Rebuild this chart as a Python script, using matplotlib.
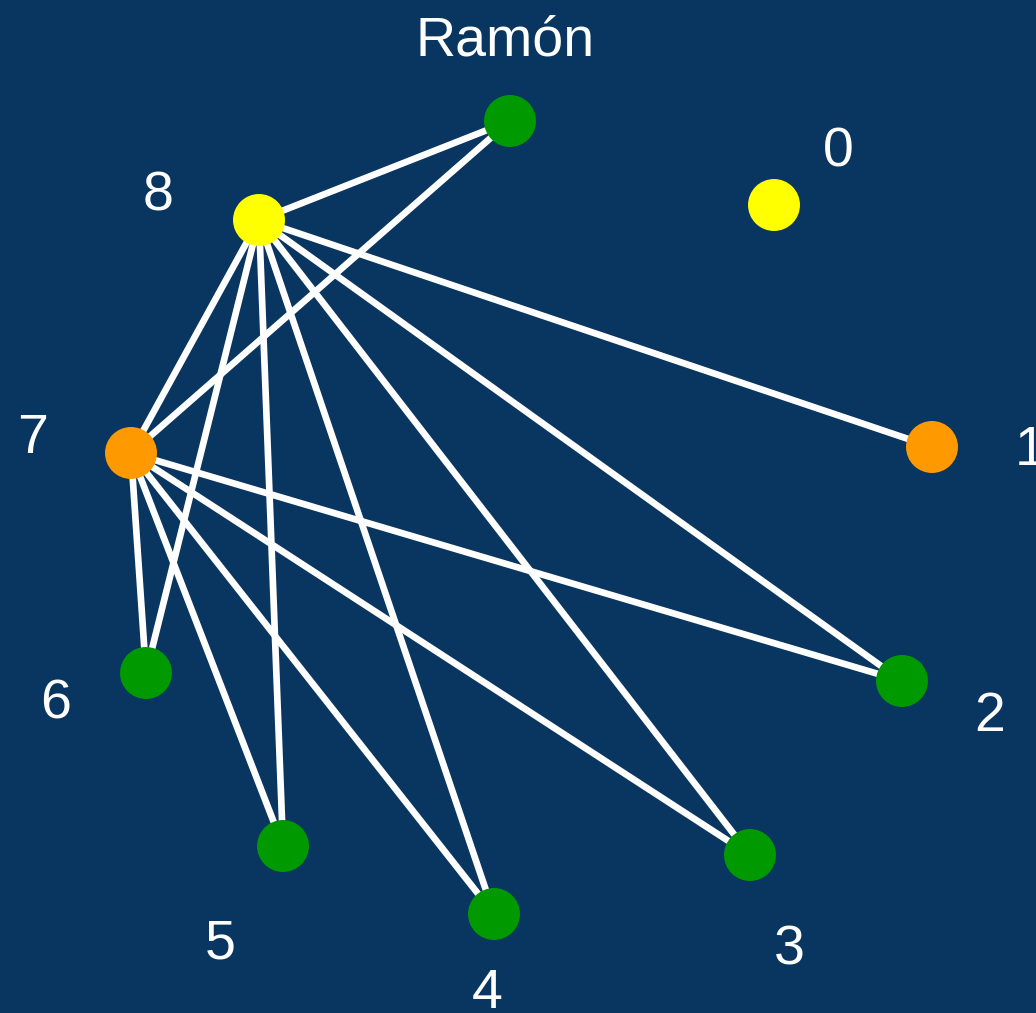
import matplotlib
matplotlib.use("Agg")
import matplotlib.pyplot as plt

# Node data (pixel-space layout)
node_names = ["Ramón", "0", "1", "2", "3", "4", "5", "6", "7", "8"]
node_x = [510, 774, 932, 902, 750, 494, 283, 146, 131, 259]
node_y = [121, 205, 447, 681, 855, 914, 846, 673, 453, 220]
node_colors = ["#009900", "#ffff00", "#ff9900", "#009900", "#009900",
               "#009900", "#009900", "#009900", "#ff9900", "#ffff00"]
label_x = [505, 838, 1030, 990, 789, 487, 220, 56, 33, 158]
label_y = [41, 152, 451, 717, 950, 994, 944, 704, 439, 196]

edges = [("8", "Ramón"), ("7", "Ramón"), ("8", "1"), ("8", "2"), ("8", "3"),
         ("8", "4"), ("8", "5"), ("8", "6"), ("8", "7"),
         ("7", "6"), ("7", "5"), ("7", "4"), ("7", "3"), ("7", "2")]

BG = "#083660"

fig = plt.figure(figsize=(10.36, 10.13), dpi=100, facecolor=BG)
ax = fig.add_axes([0, 0, 1, 1])
ax.set_facecolor(BG)
ax.set_xlim(0, 1036)
ax.set_ylim(1013, 0)
ax.axis("off")

idx = {n: i for i, n in enumerate(node_names)}
for a, b in edges:
    i, j = idx[a], idx[b]
    ax.plot([node_x[i], node_x[j]], [node_y[i], node_y[j]],
            color="white", lw=4.8, solid_capstyle="butt", zorder=1)

ax.scatter(node_x, node_y, s=1400, c=node_colors, edgecolors="none", zorder=2)

for name, lx, ly in zip(node_names, label_x, label_y):
    ax.text(lx, ly, name, color="white", fontsize=40, family="Liberation Sans",
            ha="center", va="center", zorder=3)

fig.savefig("out.png", dpi=100, facecolor=BG)
